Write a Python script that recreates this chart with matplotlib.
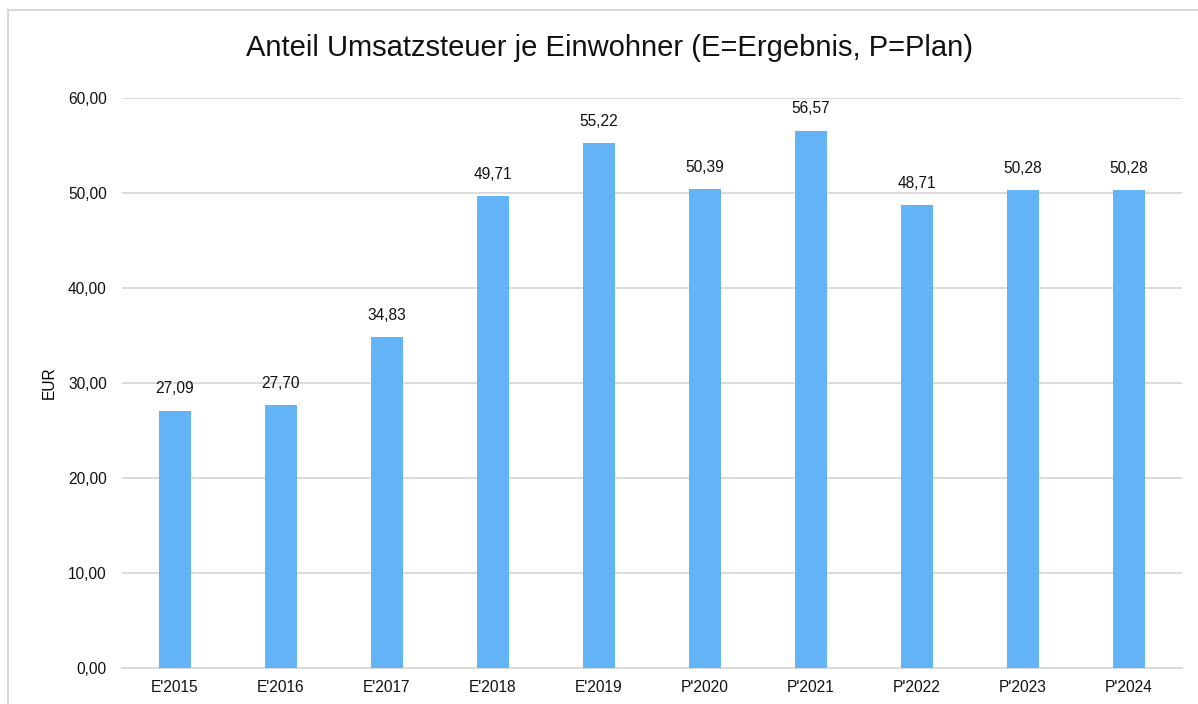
import matplotlib.pyplot as plt
import matplotlib.patches as mpatches
from matplotlib.ticker import FuncFormatter

categories = ["E'2015", "E'2016", "E'2017", "E'2018", "E'2019",
              "P'2020", "P'2021", "P'2022", "P'2023", "P'2024"]
values = [27.09, 27.70, 34.83, 49.71, 55.22, 50.39, 56.57, 48.71, 50.28, 50.28]

def de_fmt(v, pos=None):
    return f"{v:.2f}".replace(".", ",")

plt.rcParams['font.family'] = ['Liberation Sans', 'DejaVu Sans']

W, H = 1198, 704
fig = plt.figure(figsize=(W / 100, H / 100), dpi=100)
ax = fig.add_axes([122 / W, 1 - 668 / H, (1182 - 122) / W, (668 - 98) / H])

# chart frame (extends past right and bottom edges)
fig.patches.append(mpatches.Rectangle((8 / W, -0.05), 1.0, 1 - 10 / H + 0.05,
                                      transform=fig.transFigure, fill=False,
                                      edgecolor='#d9d9d9', linewidth=1.5))

fs = 11.2
x = range(len(categories))
bars = ax.bar(x, values, width=0.31, color='#63b4f6', zorder=3)
for b, v in zip(bars, values):
    ax.text(b.get_x() + b.get_width() / 2, v + 1.5, de_fmt(v),
            ha='center', va='bottom', fontsize=fs, color='#111111')

ax.set_xlim(-0.5, len(categories) - 0.5)
ax.set_ylim(0, 60)
ax.set_yticks(range(0, 61, 10))
ax.yaxis.set_major_formatter(FuncFormatter(de_fmt))
ax.set_xticks(list(x))
ax.set_xticklabels(categories)
ax.tick_params(axis='both', length=0, labelsize=fs, colors='#111111')
ax.tick_params(axis='y', pad=11)
ax.tick_params(axis='x', pad=9)
ax.grid(axis='y', color='#d9d9d9', linewidth=1.3, zorder=0)
for s in ['top', 'right', 'left']:
    ax.spines[s].set_visible(False)
ax.spines['bottom'].set_color('#d9d9d9')
ax.spines['bottom'].set_linewidth(1.3)

ax.set_ylabel('EUR', fontsize=fs, labelpad=8)
fig.text(609 / W, 1 - 48 / H, 'Anteil Umsatzsteuer je Einwohner (E=Ergebnis, P=Plan)',
         ha='center', va='center', fontsize=21, color='#111111')

fig.savefig('out.png', dpi=100)
